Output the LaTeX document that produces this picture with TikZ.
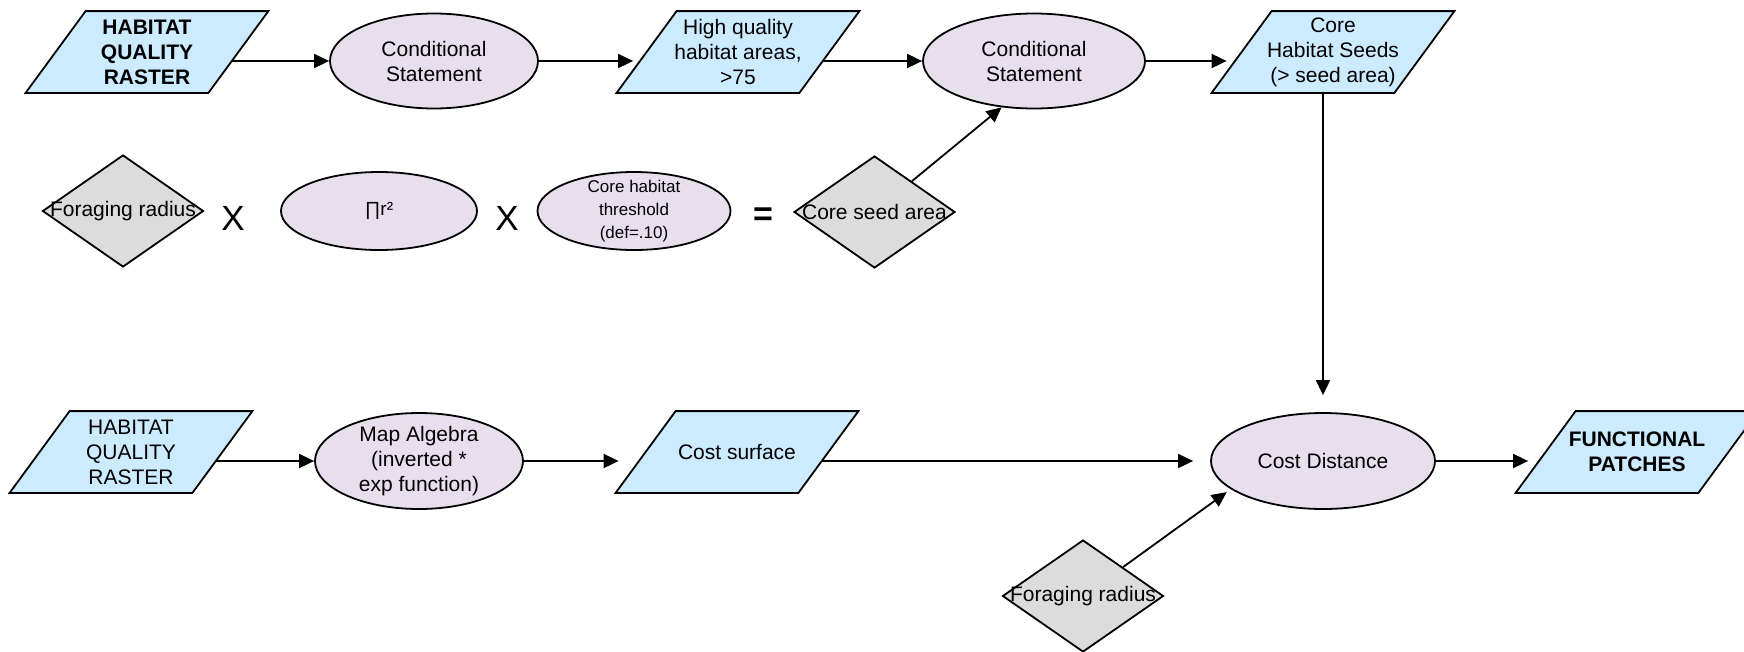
\documentclass[tikz,border=0pt]{standalone}
\usepackage{fontspec}
\setmainfont{Liberation Sans}
\usetikzlibrary{shapes.geometric,arrows.meta}

\definecolor{datablue}{HTML}{CCEBFF}
\definecolor{proclilac}{HTML}{E8DFEE}
\definecolor{paramgray}{HTML}{DCDCDC}

% data set symbol: a rectangle-based node whose outline leans to the right
\makeatletter
\pgfdeclareshape{slanted data}{
  \inheritsavedanchors[from=rectangle]
  \inheritanchorborder[from=rectangle]
  \inheritanchor[from=rectangle]{center}
  \inheritanchor[from=rectangle]{north}
  \inheritanchor[from=rectangle]{south}
  \inheritanchor[from=rectangle]{east}
  \inheritanchor[from=rectangle]{west}
  \inheritanchor[from=rectangle]{north east}
  \inheritanchor[from=rectangle]{north west}
  \inheritanchor[from=rectangle]{south east}
  \inheritanchor[from=rectangle]{south west}
  \backgroundpath{
    \southwest \edef\sd@lx{\the\pgf@x}\edef\sd@ly{\the\pgf@y}
    \northeast \edef\sd@rx{\the\pgf@x}\edef\sd@ry{\the\pgf@y}
    \pgfpathmoveto{\pgfpoint{\sd@lx-30pt}{\sd@ly}}
    \pgfpathlineto{\pgfpoint{\sd@rx-30pt}{\sd@ly}}
    \pgfpathlineto{\pgfpoint{\sd@rx+30pt}{\sd@ry}}
    \pgfpathlineto{\pgfpoint{\sd@lx+30pt}{\sd@ry}}
    \pgfpathclose
  }
}
\makeatother

\tikzset{
  base/.style={draw=black, line width=1.8pt, align=center,
    font=\fontsize{21}{25}\selectfont},
  dataset/.style={base, fill=datablue, shape=slanted data,
    minimum width=181pt, minimum height=80pt, inner sep=0pt},
  process/.style={base, fill=proclilac, ellipse, inner sep=0pt},
  param/.style={base, fill=paramgray, diamond, inner sep=0pt,
    minimum width=161pt, minimum height=112pt},
  operator/.style={font=\fontsize{35}{35}\selectfont},
  flow/.style={line width=1.8pt, -{Triangle[length=15pt,width=14pt]}},
  % a connector leaving a data set below its middle starts on the slanted side
  fromdata/.style={shorten <=-6.75pt},
}

\begin{document}
\begin{tikzpicture}[x=1pt, y=-1pt]
\useasboundingbox (0,0) rectangle (1744,651);

% core habitat seed chain
\node[dataset, font=\fontsize{21}{25}\selectfont\bfseries] (hq1) at (147,52) {HABITAT\\QUALITY\\RASTER};
\node[process, minimum width=208pt, minimum height=95pt] (cond1) at (434,61) {Conditional\\Statement};
\node[dataset] (high) at (738,52) {High quality\\habitat areas,\\>75};
\node[process, minimum width=222pt, minimum height=95pt] (cond2) at (1034,61) {Conditional\\Statement};
\node[dataset] (seeds) at (1333,52) {Core\\Habitat Seeds\\(> seed area)};

% seed area formula
\node[param] (forage1) at (123,211) {\makebox[0pt]{Foraging radius}};
\node[operator] (times1) at (233,218) {X};
\node[process, minimum width=196pt, minimum height=78pt,
  font=\fontsize{19}{23}\selectfont] (pir) at (379,211) {∏r²};
\node[operator] (times2) at (507,218) {X};
\node[process, minimum width=193pt, minimum height=78pt, inner ysep=-6pt,
  font=\fontsize{17}{23}\selectfont] (thresh) at (634,211) {Core habitat\\threshold\\(def=.10)};
\node[operator, font=\fontsize{34}{34}\selectfont\bfseries] (equals) at (763,217) {=};
\node[param] (seedarea) at (874.5,212) {\makebox[0pt]{Core seed area}};

% cost distance chain
\node[dataset] (hq2) at (131,452) {HABITAT\\QUALITY\\RASTER};
\node[process, minimum width=208pt, minimum height=96pt, inner ysep=-4pt] (mapalg) at (419,461) {Map Algebra\\(inverted *\\exp function)};
\node[dataset] (cost) at (737,452) {Cost surface};
\node[process, minimum width=224pt, minimum height=96pt] (costdist) at (1323,461) {Cost Distance};
\node[dataset, font=\fontsize{21}{25}\selectfont\bfseries] (patches) at (1637,452) {FUNCTIONAL\\PATCHES};
\node[param] (forage2) at (1083,596) {\makebox[0pt]{Foraging radius}};

% connectors
\draw[flow, fromdata] (cond1.west -| hq1.east) -- (cond1.west);
\draw[flow, shorten >=13.5pt] (cond1.east) -- (cond1.east -| high.west);
\draw[flow, fromdata] (cond2.west -| high.east) -- (cond2.west);
\draw[flow, shorten >=15pt] (cond2.east) -- (cond2.east -| seeds.west);
\draw[flow] (seedarea) -- (cond2.235);
\draw[flow, shorten >=17pt] (costdist.north |- seeds.south) -- (costdist.north);

\draw[flow, fromdata] (mapalg.west -| hq2.east) -- (mapalg.west);
\draw[flow, shorten >=27pt] (mapalg.east) -- (mapalg.east -| cost.west);
\draw[flow, fromdata, shorten >=17pt] (costdist.west -| cost.east) -- (costdist.west);
\draw[flow, shorten >=17.5pt] (costdist.east) -- (costdist.east -| patches.west);
\draw[flow, shorten >=5pt] (forage2) -- (costdist.197);
\end{tikzpicture}
\end{document}
